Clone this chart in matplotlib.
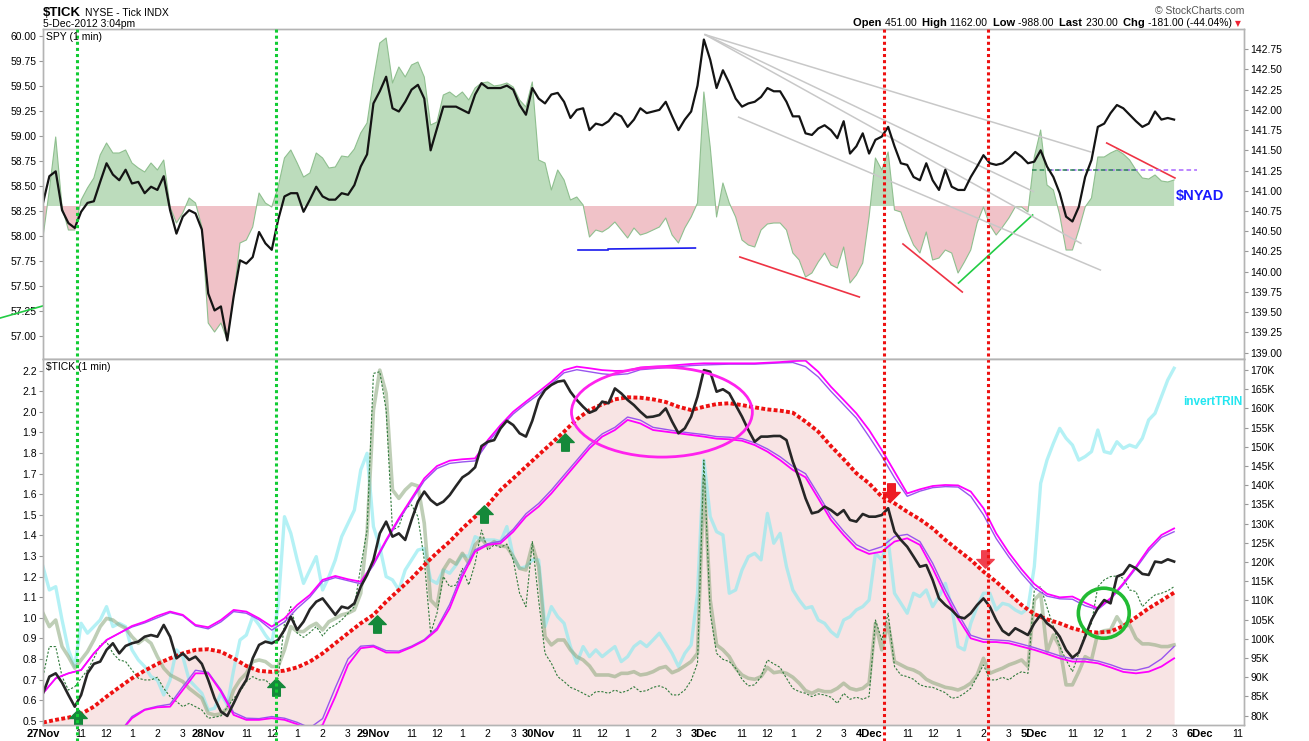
import matplotlib
matplotlib.use("Agg")
import matplotlib.pyplot as plt
import numpy as np
from matplotlib.path import Path
from matplotlib.patches import Ellipse
from matplotlib.transforms import blended_transform_factory

plt.rcParams['font.family'] = ['Liberation Sans', 'DejaVu Sans']

# ---------------- data ----------------
DAYS = ['27Nov', '28Nov', '29Nov', '30Nov', '3Dec', '4Dec', '5Dec', '6Dec']
HOUR_TICKS = ['11:00', '12:00', '13:00', '14:00', '15:00']
HOUR_LABELS = ['11', '12', '1', '2', '3']
SESSION_MIN = 390          # 9:30 - 16:00

# SPY 1-min, sampled every 15 minutes from 9:30 (right axis of upper panel)
SPY = [
    [140.85, 141.18, 141.24, 140.76, 140.60, 140.54, 140.74, 140.85, 140.87, 141.11, 141.34, 141.20, 141.13,
     141.26, 141.09, 141.11, 140.97, 141.05, 141.01, 141.18, 140.76, 140.47, 140.68, 140.76, 140.72, 140.52],
    [139.73, 139.52, 139.57, 139.15, 139.69, 140.14, 140.10, 140.18, 140.49, 140.35, 140.27, 140.64, 140.93,
     140.97, 140.97, 140.74, 140.89, 141.05, 140.93, 140.89, 140.89, 140.97, 140.95, 141.07, 141.30, 141.45],
    [142.08, 142.23, 142.41, 142.02, 141.98, 142.10, 142.25, 142.31, 142.14, 141.50, 141.77, 142.04, 142.04,
     142.04, 142.00, 141.96, 142.19, 142.33, 142.27, 142.27, 142.27, 142.30, 142.25, 142.06, 141.94, 142.27],
    [142.14, 142.08, 142.19, 142.21, 142.10, 141.90, 142.00, 142.02, 141.75, 141.83, 141.81, 141.86, 141.96,
     141.92, 141.79, 141.88, 142.02, 141.96, 141.98, 142.00, 142.10, 141.92, 141.75, 141.88, 141.98, 142.30],
    [142.87, 142.62, 142.27, 142.49, 142.33, 142.14, 142.04, 142.08, 142.10, 142.16, 142.27, 142.23, 142.23,
     142.10, 141.92, 141.92, 141.71, 141.69, 141.77, 141.81, 141.75, 141.65, 141.86, 141.46, 141.55, 141.71],
    [141.46, 141.63, 141.67, 141.79, 141.55, 141.34, 141.32, 141.17, 141.13, 141.34, 141.13, 141.01, 141.26,
     141.05, 141.01, 141.01, 141.17, 141.30, 141.44, 141.34, 141.32, 141.34, 141.40, 141.48, 141.42, 141.34],
    [141.36, 141.50, 141.30, 141.17, 140.97, 140.68, 140.62, 140.80, 141.17, 141.38, 141.79, 141.83, 141.96,
     142.06, 142.02, 141.94, 141.86, 141.79, 141.83, 141.98, 141.88, 141.90, 141.88],
]

# $NYAD (left axis of upper panel), every 15 minutes
NYAD_BASE = 58.30
NYAD = [
    [57.99, 58.46, 58.99, 58.29, 58.06, 58.06, 58.36, 58.48, 58.58, 58.81, 58.93, 58.83, 58.83,
     58.86, 58.73, 58.68, 58.64, 58.73, 58.66, 58.76, 58.29, 58.13, 58.23, 58.38, 58.33, 58.09],
    [57.13, 57.04, 57.13, 56.96, 57.39, 57.93, 57.96, 58.09, 58.43, 58.33, 58.29, 58.49, 58.78,
     58.86, 58.73, 58.59, 58.63, 58.83, 58.78, 58.68, 58.69, 58.80, 58.79, 58.87, 59.03, 59.13],
    [59.56, 59.93, 59.98, 59.53, 59.69, 59.59, 59.71, 59.74, 59.59, 59.11, 59.14, 59.41, 59.44,
     59.39, 59.44, 59.36, 59.48, 59.53, 59.54, 59.50, 59.51, 59.53, 59.49, 59.36, 59.29, 59.54],
    [58.76, 58.73, 58.46, 58.66, 58.56, 58.36, 58.39, 58.31, 57.99, 58.06, 58.04, 58.08, 58.14,
     58.06, 57.98, 58.08, 58.01, 58.03, 58.06, 58.09, 58.18, 58.01, 57.93, 58.08, 58.19, 58.33],
    [59.44, 58.89, 58.19, 58.53, 58.33, 58.19, 57.96, 57.91, 57.89, 58.06, 58.12, 58.13, 58.13,
     58.06, 57.83, 57.76, 57.59, 57.63, 57.74, 57.83, 57.71, 57.68, 57.89, 57.53, 57.61, 57.73],
    [58.19, 58.78, 58.66, 58.84, 58.26, 58.24, 58.06, 57.91, 57.83, 58.04, 57.76, 57.78, 57.86,
     57.83, 57.63, 57.74, 57.86, 58.13, 58.29, 58.11, 58.01, 58.09, 58.18, 58.29, 58.29, 58.24],
    [58.79, 59.06, 58.51, 58.46, 58.21, 57.86, 57.86, 58.06, 58.29, 58.38, 58.79, 58.79, 58.83,
     58.86, 58.82, 58.76, 58.66, 58.58, 58.57, 58.61, 58.55, 58.54, 58.56],
]

# $TICK panel (left axis units), every 15 minutes
TICK_CUM = [
    [0.633, 0.714, 0.730, 0.685, 0.625, 0.568, 0.625, 0.730, 0.776, 0.787, 0.844, 0.876, 0.827,
     0.863, 0.876, 0.884, 0.908, 0.916, 0.908, 0.965, 0.908, 0.803, 0.827, 0.795, 0.811, 0.776],
    [0.698, 0.609, 0.544, 0.523, 0.584, 0.649, 0.698, 0.803, 0.868, 0.884, 0.876, 0.892, 0.941,
     1.005, 0.941, 0.981, 1.041, 1.078, 1.094, 1.054, 1.014, 1.054, 1.046, 1.070, 1.151, 1.208],
    [1.281, 1.410, 1.467, 1.394, 1.410, 1.378, 1.475, 1.564, 1.613, 1.572, 1.548, 1.564, 1.596,
     1.640, 1.682, 1.702, 1.731, 1.834, 1.855, 1.863, 1.920, 1.957, 1.936, 1.896, 1.880, 1.957],
    [2.058, 2.106, 2.131, 2.147, 2.152, 2.098, 2.058, 2.025, 1.996, 2.009, 2.050, 2.042, 2.114,
     2.090, 2.058, 2.033, 2.001, 1.974, 1.977, 1.985, 2.017, 1.953, 1.896, 1.920, 1.977, 2.074],
    [2.203, 2.195, 2.098, 2.110, 2.090, 2.033, 1.977, 1.912, 1.855, 1.880, 1.880, 1.883, 1.883,
     1.863, 1.758, 1.677, 1.580, 1.507, 1.515, 1.540, 1.523, 1.499, 1.523, 1.475, 1.467, 1.504],
    [1.491, 1.491, 1.499, 1.532, 1.418, 1.378, 1.345, 1.297, 1.248, 1.256, 1.184, 1.094, 1.062,
     1.038, 1.005, 0.997, 1.022, 1.062, 1.094, 1.054, 0.989, 0.937, 0.916, 0.949, 0.933, 0.916],
    [0.973, 1.014, 0.973, 0.949, 0.908, 0.844, 0.806, 0.831, 0.908, 0.989, 1.046, 1.086, 1.070,
     1.200, 1.213, 1.256, 1.240, 1.213, 1.208, 1.273, 1.268, 1.284, 1.273],
]

INVERT_TRIN = [
    [1.248, 1.135, 1.151, 0.989, 0.844, 0.763, 0.973, 0.925, 0.957, 0.989, 1.054, 0.957, 0.973,
     0.957, 0.844, 0.795, 0.763, 0.714, 0.698, 0.625, 0.698, 0.844, 0.811, 0.698, 0.665, 0.633],
    [0.552, 0.560, 0.633, 0.576, 0.746, 0.892, 0.916, 1.005, 0.965, 0.916, 0.876, 1.054, 1.491,
     1.410, 1.281, 1.167, 1.232, 1.297, 1.135, 1.200, 1.281, 1.394, 1.459, 1.523, 1.718, 1.799],
    [1.443, 1.345, 1.200, 1.184, 1.135, 1.232, 1.281, 1.329, 1.337, 1.184, 1.167, 1.232, 1.216,
     1.256, 1.305, 1.297, 1.394, 1.378, 1.378, 1.378, 1.370, 1.443, 1.297, 1.240, 1.248, 1.281],
    [1.281, 0.957, 1.054, 1.005, 0.973, 0.860, 0.779, 0.860, 0.811, 0.844, 0.811, 0.836, 0.860,
     0.787, 0.811, 0.860, 0.884, 0.860, 0.892, 0.925, 0.876, 0.827, 0.763, 0.827, 0.868, 1.119],
    [1.766, 1.491, 1.418, 1.402, 1.119, 1.135, 1.232, 1.297, 1.313, 1.281, 1.507, 1.362, 1.410,
     1.248, 1.135, 1.086, 1.046, 1.054, 0.989, 0.973, 0.933, 0.908, 0.989, 1.005, 1.038, 1.054],
    [1.086, 1.313, 1.281, 1.378, 1.119, 1.070, 1.022, 1.119, 1.103, 1.135, 1.054, 1.103, 1.167,
     1.054, 0.860, 0.844, 0.973, 1.054, 1.119, 1.119, 1.038, 1.070, 1.062, 1.038, 1.022, 1.046],
    [1.248, 1.653, 1.766, 1.847, 1.920, 1.872, 1.839, 1.766, 1.783, 1.807, 1.912, 1.807, 1.799,
     1.855, 1.823, 1.839, 1.828, 1.872, 1.961, 1.993, 2.074, 2.155, 2.212],
]

TICK_SMOOTH = [
    [1.022, 0.957, 0.989, 0.860, 0.811, 0.755, 0.795, 0.835, 0.892, 0.957, 0.997, 0.989, 0.965,
     0.949, 0.908, 0.876, 0.900, 0.876, 0.811, 0.755, 0.722, 0.706, 0.690, 0.657, 0.633, 0.609],
    [0.536, 0.528, 0.533, 0.560, 0.649, 0.698, 0.730, 0.787, 0.795, 0.787, 0.763, 0.763, 0.844,
     0.957, 0.933, 0.933, 0.957, 0.973, 0.941, 0.981, 0.997, 1.014, 1.022, 1.038, 1.119, 1.410],
    [2.009, 2.203, 2.090, 1.621, 1.580, 1.621, 1.650, 1.640, 1.459, 1.086, 1.054, 1.232, 1.281,
     1.261, 1.313, 1.264, 1.354, 1.386, 1.345, 1.370, 1.349, 1.345, 1.297, 1.240, 1.232, 1.354],
    [1.248, 0.908, 0.868, 0.892, 0.892, 0.844, 0.811, 0.795, 0.766, 0.722, 0.722, 0.722, 0.714,
     0.730, 0.730, 0.738, 0.722, 0.727, 0.738, 0.755, 0.763, 0.733, 0.746, 0.766, 0.787, 0.827],
    [1.685, 1.086, 0.868, 0.844, 0.811, 0.755, 0.722, 0.706, 0.701, 0.714, 0.759, 0.733, 0.738,
     0.730, 0.711, 0.682, 0.646, 0.633, 0.649, 0.641, 0.641, 0.657, 0.682, 0.657, 0.649, 0.657],
    [0.682, 0.973, 0.844, 0.973, 0.787, 0.771, 0.755, 0.746, 0.730, 0.701, 0.685, 0.674, 0.662,
     0.657, 0.649, 0.662, 0.682, 0.722, 0.803, 0.730, 0.743, 0.755, 0.771, 0.782, 0.795, 0.763],
    [1.086, 1.119, 0.835, 0.916, 0.860, 0.674, 0.674, 0.738, 0.811, 0.795, 0.925, 0.937, 0.941,
     1.005, 0.957, 0.965, 0.900, 0.873, 0.873, 0.868, 0.860, 0.860, 0.868],
]

TICK_RAW = [
    [0.714, 0.860, 0.860, 0.714, 0.649, 0.665, 0.706, 0.746, 0.803, 0.868, 0.884, 0.827, 0.795,
     0.787, 0.746, 0.706, 0.698, 0.698, 0.711, 0.657, 0.617, 0.593, 0.568, 0.584, 0.568, 0.552],
    [0.512, 0.517, 0.523, 0.565, 0.609, 0.641, 0.690, 0.714, 0.698, 0.698, 0.669, 0.706, 0.973,
     1.054, 0.925, 0.905, 0.928, 0.957, 0.912, 0.949, 0.965, 0.989, 1.022, 1.054, 1.248, 1.426],
    [2.187, 2.195, 2.009, 1.426, 1.443, 1.532, 1.548, 1.491, 1.281, 0.925, 1.022, 1.200, 1.151,
     1.159, 1.240, 1.159, 1.264, 1.426, 1.329, 1.354, 1.342, 1.358, 1.281, 1.119, 1.054, 1.370],
    [1.086, 0.827, 0.779, 0.714, 0.690, 0.662, 0.649, 0.633, 0.617, 0.641, 0.641, 0.633, 0.649,
     0.636, 0.646, 0.665, 0.641, 0.646, 0.662, 0.669, 0.657, 0.625, 0.625, 0.649, 0.695, 0.779],
    [1.766, 1.022, 0.827, 0.798, 0.787, 0.755, 0.701, 0.669, 0.674, 0.714, 0.795, 0.776, 0.759,
     0.706, 0.657, 0.641, 0.633, 0.617, 0.630, 0.625, 0.614, 0.584, 0.633, 0.604, 0.614, 0.604],
    [0.617, 0.989, 0.892, 1.022, 0.763, 0.722, 0.714, 0.701, 0.674, 0.665, 0.662, 0.649, 0.636,
     0.609, 0.614, 0.633, 0.657, 0.714, 0.771, 0.698, 0.698, 0.711, 0.698, 0.722, 0.738, 0.730],
    [1.135, 1.151, 1.051, 0.957, 0.860, 0.795, 0.738, 0.827, 0.925, 0.973, 1.151, 1.184, 1.200,
     1.203, 1.192, 1.135, 1.127, 1.054, 1.086, 1.111, 1.119, 1.131, 1.151],
]

# smooth overlays, every 30 minutes
MOV_AVG = [
    [0.491, 0.504, 0.515, 0.533, 0.568, 0.617, 0.662, 0.706, 0.743, 0.776, 0.803, 0.827, 0.844],
    [0.847, 0.835, 0.803, 0.766, 0.742, 0.737, 0.743, 0.759, 0.787, 0.827, 0.876, 0.925, 0.973],
    [1.014, 1.078, 1.135, 1.192, 1.256, 1.316, 1.370, 1.434, 1.491, 1.548, 1.621, 1.677, 1.734],
    [1.791, 1.847, 1.904, 1.964, 2.009, 2.037, 2.061, 2.071, 2.069, 2.061, 2.048, 2.025, 2.009],
    [2.025, 2.038, 2.042, 2.033, 2.022, 2.012, 2.006, 1.996, 1.953, 1.904, 1.834, 1.770, 1.702],
    [1.653, 1.588, 1.556, 1.515, 1.478, 1.434, 1.378, 1.329, 1.281, 1.224, 1.175, 1.119, 1.062],
    [1.018, 0.992, 0.973, 0.949, 0.933, 0.928, 0.933, 0.960, 1.002, 1.046, 1.083, 1.122],
]
UPPER_A = [
    [0.633, 0.706, 0.730, 0.746, 0.827, 0.892, 0.925, 0.960, 0.981, 1.009, 1.030, 1.014, 0.965],
    [0.954, 0.989, 1.038, 1.030, 0.997, 0.957, 0.997, 1.062, 1.111, 1.184, 1.203, 1.187, 1.175],
    [1.264, 1.378, 1.483, 1.580, 1.677, 1.737, 1.763, 1.770, 1.774, 1.863, 1.936, 2.001, 2.050],
    [2.098, 2.147, 2.203, 2.220, 2.212, 2.203, 2.199, 2.200, 2.216, 2.220, 2.223, 2.228, 2.233],
    [2.236, 2.236, 2.236, 2.236, 2.236, 2.239, 2.242, 2.247, 2.249, 2.195, 2.122, 2.058, 1.993],
    [1.912, 1.815, 1.710, 1.604, 1.624, 1.640, 1.645, 1.643, 1.613, 1.532, 1.410, 1.316, 1.235],
    [1.164, 1.116, 1.099, 1.103, 1.073, 1.046, 1.095, 1.167, 1.248, 1.337, 1.402, 1.434],
]
UPPER_B = [
    [0.633, 0.706, 0.730, 0.746, 0.827, 0.892, 0.925, 0.955, 0.975, 1.000, 1.025, 1.010, 0.960],
    [0.946, 0.980, 1.030, 1.022, 0.990, 0.940, 0.980, 1.045, 1.100, 1.176, 1.195, 1.180, 1.165],
    [1.255, 1.370, 1.475, 1.570, 1.665, 1.725, 1.750, 1.757, 1.762, 1.850, 1.925, 1.990, 2.040],
    [2.085, 2.135, 2.190, 2.205, 2.195, 2.185, 2.180, 2.185, 2.205, 2.210, 2.215, 2.220, 2.225],
    [2.228, 2.230, 2.232, 2.232, 2.232, 2.235, 2.238, 2.240, 2.220, 2.170, 2.100, 2.035, 1.970],
    [1.880, 1.785, 1.680, 1.590, 1.615, 1.632, 1.637, 1.635, 1.590, 1.500, 1.385, 1.295, 1.215],
    [1.145, 1.105, 1.092, 1.090, 1.058, 1.040, 1.090, 1.160, 1.240, 1.325, 1.390, 1.418],
]
LOWER_A = [
    [0.200, 0.220, 0.250, 0.280, 0.320, 0.370, 0.440, 0.512, 0.552, 0.565, 0.568, 0.649, 0.730],
    [0.730, 0.641, 0.528, 0.504, 0.504, 0.512, 0.504, 0.483, 0.455, 0.479, 0.617, 0.771, 0.852],
    [0.860, 0.831, 0.831, 0.857, 0.889, 0.941, 1.046, 1.200, 1.321, 1.354, 1.362, 1.418, 1.491],
    [1.540, 1.604, 1.677, 1.750, 1.823, 1.880, 1.912, 1.961, 1.944, 1.912, 1.904, 1.896, 1.888],
    [1.880, 1.870, 1.867, 1.860, 1.839, 1.807, 1.766, 1.718, 1.682, 1.580, 1.475, 1.402, 1.337],
    [1.310, 1.321, 1.370, 1.386, 1.354, 1.240, 1.111, 0.997, 0.900, 0.882, 0.882, 0.876, 0.860],
    [0.844, 0.824, 0.803, 0.787, 0.787, 0.779, 0.759, 0.737, 0.730, 0.738, 0.763, 0.803],
]
LOWER_B = [
    [0.220, 0.240, 0.270, 0.300, 0.340, 0.390, 0.440, 0.520, 0.555, 0.570, 0.580, 0.665, 0.745],
    [0.735, 0.650, 0.540, 0.512, 0.510, 0.520, 0.512, 0.492, 0.465, 0.510, 0.660, 0.800, 0.862],
    [0.866, 0.840, 0.838, 0.862, 0.894, 0.950, 1.065, 1.220, 1.330, 1.360, 1.372, 1.430, 1.505],
    [1.555, 1.620, 1.693, 1.765, 1.838, 1.893, 1.925, 1.975, 1.960, 1.925, 1.915, 1.905, 1.897],
    [1.890, 1.880, 1.877, 1.870, 1.850, 1.820, 1.782, 1.735, 1.700, 1.600, 1.495, 1.420, 1.355],
    [1.325, 1.345, 1.395, 1.405, 1.370, 1.265, 1.135, 1.020, 0.915, 0.895, 0.892, 0.888, 0.872],
    [0.855, 0.835, 0.815, 0.800, 0.800, 0.790, 0.772, 0.750, 0.745, 0.760, 0.800, 0.860],
]

# annotations: (day index, time, value)
VLINES = [(0, '10:50', '#11cc33'), (1, '12:10', '#11cc33'), (5, '10:05', '#ee1111'), (5, '14:11', '#ee1111')]
GRAY_LINES = [((4, '09:33', 142.93), (6, '11:43', 141.48)),
              ((4, '09:33', 142.93), (5, '15:58', 140.99)),
              ((4, '09:33', 142.93), (6, '11:20', 140.35)),
              ((4, '10:52', 141.91), (6, '12:06', 140.02))]
RED_LINES = [((4, '10:55', 57.79), (4, '15:37', 57.39)),
             ((5, '10:50', 57.92), (5, '13:10', 57.44)),
             ((6, '12:21', 58.93), (6, '15:02', 58.58))]
GREEN_LINES = [((5, '13:01', 57.53), (5, '15:56', 58.21)),
               ((0, '07:49', 57.18), (0, '09:29', 57.30))]
BLUE_LINES = [((3, '11:02', 57.86), (3, '12:14', 57.86)),
              ((3, '12:14', 57.87), (3, '15:40', 57.88))]
PURPLE_DASH = ((6, '10:05', 58.66), (6, '15:54', 58.66))
GREEN_DASH = ((5, '15:54', 58.66), (6, '13:35', 58.66))
UP_ARROWS = [(0, '10:53', 0.513), (1, '12:10', 0.664), (2, '09:38', 0.970), (2, '13:51', 1.502), (3, '10:33', 1.854)]
DOWN_ARROWS = [(5, '10:22', 1.613, '#ee1c24'), (5, '14:03', 1.284, '#f0404e')]
ELLIPSES = [((3, '14:21', 1.999), 427, 0.437, '#ff22ee', 2.0),
            ((6, '12:14', 1.022), 120, 0.243, '#22bb33', 2.6)]

HEADER_STATS = [('Open', '451.00'), ('High', '1162.00'), ('Low', '-988.00'),
                ('Last', '230.00'), ('Chg', '-181.00 (-44.04%)')]


def tmin(day, hhmm):
    h, m = hhmm.split(':')
    return day * SESSION_MIN + int(h) * 60 + int(m) - 570


def grid(by_day, step):
    xs, ys = [], []
    for d, vals in enumerate(by_day):
        for k, v in enumerate(vals):
            xs.append(d * SESSION_MIN + step * k)
            ys.append(v)
    return np.array(xs, float), np.array(ys, float)


def seg(ax, p, q, **kw):
    ax.plot([tmin(p[0], p[1]), tmin(q[0], q[1])], [p[2], q[2]], **kw)


# ---------------- figure ----------------
W, H = 1309, 741
fig = plt.figure(figsize=(W / 100, H / 100), dpi=100)


def fx(px):
    return px / W


def fy(py):
    return 1 - py / H


L, R = 43, 1244
XMAX = 2835
ax_ad = fig.add_axes([fx(L), fy(359), fx(R) - fx(L), fy(29) - fy(359)])
ax_spy = ax_ad.twinx()
ax_t = fig.add_axes([fx(L), fy(725), fx(R) - fx(L), fy(359) - fy(725)])
ax_k = ax_t.twinx()

SPINE = '#b4b4b4'
for a in (ax_ad, ax_spy, ax_t, ax_k):
    a.set_xlim(0, XMAX)
    for s in a.spines.values():
        s.set_color(SPINE)
        s.set_linewidth(1.0)
    a.tick_params(axis='y', direction='out', length=3, width=0.8, color='#999999',
                  labelsize=7.5, pad=1.5, labelcolor='black')

# ----- upper panel -----
xa, ya = grid(NYAD, 15)
ax_ad.fill_between(xa, NYAD_BASE, ya, where=ya >= NYAD_BASE, interpolate=True, color='#bcdcbc', lw=0)
ax_ad.fill_between(xa, NYAD_BASE, ya, where=ya <= NYAD_BASE, interpolate=True, color='#f0c2c8', lw=0)
ax_ad.plot(xa, ya, color='#8fbf8f', lw=0.8)
ax_ad.set_ylim(56.77, 60.07)
ad_ticks = np.arange(57.0, 60.01, 0.25)
ax_ad.set_yticks(ad_ticks)
ax_ad.set_yticklabels([f'{v:.2f}' for v in ad_ticks])
ax_ad.tick_params(axis='x', length=0, labelbottom=False)

for p, q in RED_LINES:
    seg(ax_ad, p, q, color='#ee3344', lw=1.2)
for p, q in GREEN_LINES:
    seg(ax_ad, p, q, color='#22cc44', lw=1.2, clip_on=False)
for p, q in BLUE_LINES:
    seg(ax_ad, p, q, color='#1a1aee', lw=1.2)
seg(ax_ad, *PURPLE_DASH, color='#aa66ff', lw=1.1, dashes=(3, 2))
seg(ax_ad, *GREEN_DASH, color='#2e8b57', lw=1.1, dashes=(3, 2))

xs, ys = grid(SPY, 15)
for p, q in GRAY_LINES:
    seg(ax_spy, p, q, color='#c8c8c8', lw=1.1)
ax_spy.plot(xs, ys, color='#141414', lw=1.6)
ax_spy.set_ylim(138.92, 143.0)
spy_ticks = np.arange(139.0, 142.76, 0.25)
ax_spy.set_yticks(spy_ticks)
ax_spy.set_yticklabels([f'{v:.2f}' for v in spy_ticks])

# ----- lower panel -----
xm, ym = grid(MOV_AVG, 30)
ax_t.fill_between(xm, 0, ym, color='#f8e4e4', lw=0, zorder=1)

xc, yc = grid(INVERT_TRIN, 15)
ax_t.plot(xc, yc, color='#8ceaf0', lw=2.4, alpha=0.65, zorder=2)
xg, yg = grid(TICK_SMOOTH, 15)
ax_t.plot(xg, yg, color='#8aa67a', lw=2.6, alpha=0.55, zorder=3)
xr, yr = grid(TICK_RAW, 15)
ax_t.plot(xr, yr, color='#2f7a3a', lw=0.8, dashes=(2, 1.5), zorder=4)

for band, col, lw in ((UPPER_B, '#9955ee', 1.0), (LOWER_B, '#9955ee', 1.0),
                      (UPPER_A, '#ff00ff', 1.3), (LOWER_A, '#ff00ff', 1.3)):
    bx, by = grid(band, 30)
    ax_t.plot(bx, by, color=col, lw=lw, zorder=5)

ax_t.plot(xm, ym, color='#ee1111', lw=2.8, dashes=(1, 0.6), zorder=6)
xb, yb = grid(TICK_CUM, 15)
ax_t.plot(xb, yb, color='#262626', lw=1.9, zorder=7)

for (d, hh, v), w, h, col, lw in ELLIPSES:
    ax_t.add_patch(Ellipse((tmin(d, hh), v), w, h, fill=False, edgecolor=col, lw=lw, zorder=8))

up_path = Path([(-0.5, 0.0), (0, 0.5), (0.5, 0.0), (0.22, 0.0), (0.22, -0.5),
                (-0.22, -0.5), (-0.22, 0.0), (-0.5, 0.0)], closed=True)
down_path = Path([(x, -y) for x, y in up_path.vertices], closed=True)
for d, hh, v in UP_ARROWS:
    ax_t.plot([tmin(d, hh)], [v], marker=up_path, markersize=12.5, color='#15893a', ls='none', zorder=9)
for d, hh, v, col in DOWN_ARROWS:
    ax_t.plot([tmin(d, hh)], [v], marker=down_path, markersize=12.5, color=col, ls='none', zorder=9)

ax_t.set_ylim(0.479, 2.257)
tt = np.arange(0.5, 2.21, 0.1)
ax_t.set_yticks(tt)
ax_t.set_yticklabels([f'{v:.1f}' for v in tt])
ax_k.set_ylim(77.58, 172.86)
kt = list(range(80, 171, 5))
ax_k.set_yticks(kt)
ax_k.set_yticklabels([f'{v}K' for v in kt])

xt, xl = [], []
for d, name in enumerate(DAYS):
    xt.append(d * SESSION_MIN)
    xl.append(name)
    for hh, lab in zip(HOUR_TICKS, HOUR_LABELS):
        m = tmin(d, hh)
        if m <= XMAX:
            xt.append(m)
            xl.append(lab)
ax_t.set_xticks(xt)
ax_t.set_xticklabels(xl)
ax_t.tick_params(axis='x', length=0, pad=3, labelsize=7.5)
for lab in ax_t.get_xticklabels():
    if lab.get_text() in DAYS:
        lab.set_fontweight('bold')
        lab.set_fontfamily(['Liberation Sans Narrow', 'Liberation Sans'])
        lab.set_fontsize(8)

# vertical dotted markers through both panels
trans = blended_transform_factory(ax_t.transData, fig.transFigure)
for d, hh, col in VLINES:
    x = tmin(d, hh)
    ax_t.plot([x, x], [fy(741), fy(29)], transform=trans, clip_on=False, color=col,
              lw=2.2, dashes=(1, 1), zorder=20)

# ----- texts -----
fig.text(fx(46), fy(40), 'SPY (1 min)', fontsize=7.5, va='baseline')
fig.text(fx(46), fy(370), '$TICK (1 min)', fontsize=7.5, va='baseline')
fig.text(fx(1176), fy(196), '$NYAD', fontsize=10.5, fontweight='bold', color='#1a1aff', va='center')
fig.text(fx(1183), fy(402), 'invertTRIN', fontsize=8.5, fontweight='bold', color='#22e6f0', va='center')

t1 = fig.text(fx(43), fy(16), '$TICK', fontsize=9.5, fontweight='bold', va='baseline')
renderer = fig.canvas.get_renderer()
w1 = t1.get_window_extent(renderer).width
fig.text(fx(43 + w1 + 4), fy(16), 'NYSE - Tick INDX', fontsize=7.5, va='baseline')
fig.text(fx(43), fy(27), '5-Dec-2012 3:04pm', fontsize=7.5, va='baseline')
fig.text(fx(1244), fy(14), '\u00a9 StockCharts.com', fontsize=7.5, color='#555555', ha='right', va='baseline')

x = 853
for i, (k, v) in enumerate(HEADER_STATS):
    tk = fig.text(fx(x), fy(26), k + ' ', fontsize=8, fontweight='bold', va='baseline')
    x += tk.get_window_extent(renderer).width
    tv = fig.text(fx(x), fy(26), v + ('  ' if i < len(HEADER_STATS) - 1 else ''), fontsize=7.5, va='baseline')
    x += tv.get_window_extent(renderer).width
fig.text(fx(x + 3), fy(24), '\u25bc', fontsize=5.5, color='#ee2233', va='center', family='DejaVu Sans')

fig.savefig('out.png', dpi=100)
